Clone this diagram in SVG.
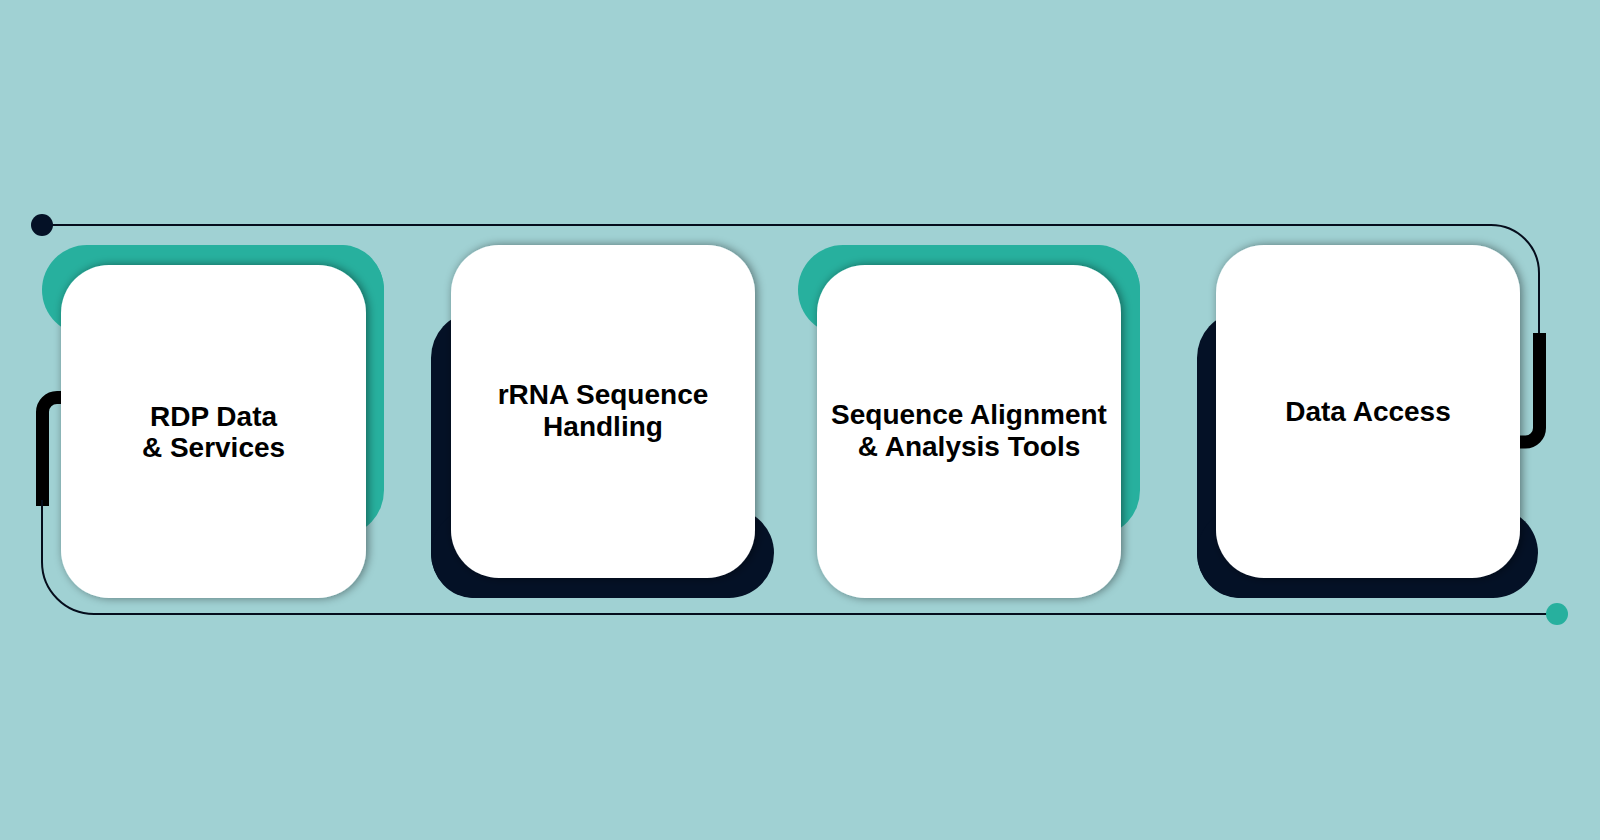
<svg xmlns="http://www.w3.org/2000/svg" width="1600" height="840" viewBox="0 0 1600 840">
  <style>
    .thin { fill: none; stroke: #050d1c; stroke-width: 2; }
    .thick { fill: none; stroke: #000000; stroke-width: 13; }
    .teal { fill: #27b09e; }
    .navy { fill: #041126; }
    .card { fill: #ffffff; filter: url(#sh); }
    .label { font-family: "Liberation Sans", Arial, sans-serif; font-weight: bold; font-size: 28px; fill: #000000; text-anchor: middle; }
  </style>
  <defs>
    <filter id="sh" x="-20%" y="-20%" width="140%" height="140%">
      <feDropShadow dx="2" dy="0" stdDeviation="5" flood-color="#000000" flood-opacity="0.45"/>
    </filter>
  </defs>
  <rect x="0" y="0" width="1600" height="840" fill="#a0d1d3"/>

  <g id="connectors">
    <path class="thin" d="M 42 225 H 1491 A 48 48 0 0 1 1539 273 V 340"/>
    <path class="thick" d="M 1539.5 333 V 428 A 14 14 0 0 1 1525.5 442 H 1500"/>
    <path class="thick" d="M 80 397.5 H 57 A 14.5 14.5 0 0 0 42.5 412 V 506"/>
    <path class="thin" d="M 42 500 V 562 A 52 52 0 0 0 94 614 H 1550"/>
    <circle cx="42" cy="225" r="11" fill="#041126"/>
    <circle cx="1557" cy="614" r="11" fill="#27b09e"/>
  </g>

  <g id="node1">
    <rect class="teal" x="42" y="245" width="342" height="90" rx="45"/>
    <rect class="teal" x="300" y="245" width="84" height="290" rx="45"/>
    <rect class="card" x="61" y="265" width="305" height="333" rx="48"/>
    <text class="label" x="213.5" y="426">RDP Data</text>
    <text class="label" x="213.5" y="457">&amp; Services</text>
  </g>

  <g id="node2">
    <rect class="navy" x="431" y="313" width="84" height="285" rx="45"/>
    <rect class="navy" x="431" y="508" width="343" height="90" rx="45"/>
    <rect class="card" x="451" y="245" width="304" height="333" rx="48"/>
    <text class="label" x="603" y="404">rRNA Sequence</text>
    <text class="label" x="603" y="436">Handling</text>
  </g>

  <g id="node3">
    <rect class="teal" x="798" y="245" width="342" height="90" rx="45"/>
    <rect class="teal" x="1056" y="245" width="84" height="290" rx="45"/>
    <rect class="card" x="817" y="265" width="304" height="333" rx="48"/>
    <text class="label" x="969" y="424">Sequence Alignment</text>
    <text class="label" x="969" y="456">&amp; Analysis Tools</text>
  </g>

  <g id="node4">
    <rect class="navy" x="1197" y="313" width="84" height="285" rx="45"/>
    <rect class="navy" x="1197" y="508" width="341" height="90" rx="45"/>
    <rect class="card" x="1216" y="245" width="304" height="333" rx="48"/>
    <text class="label" x="1368" y="421">Data Access</text>
  </g>
</svg>
